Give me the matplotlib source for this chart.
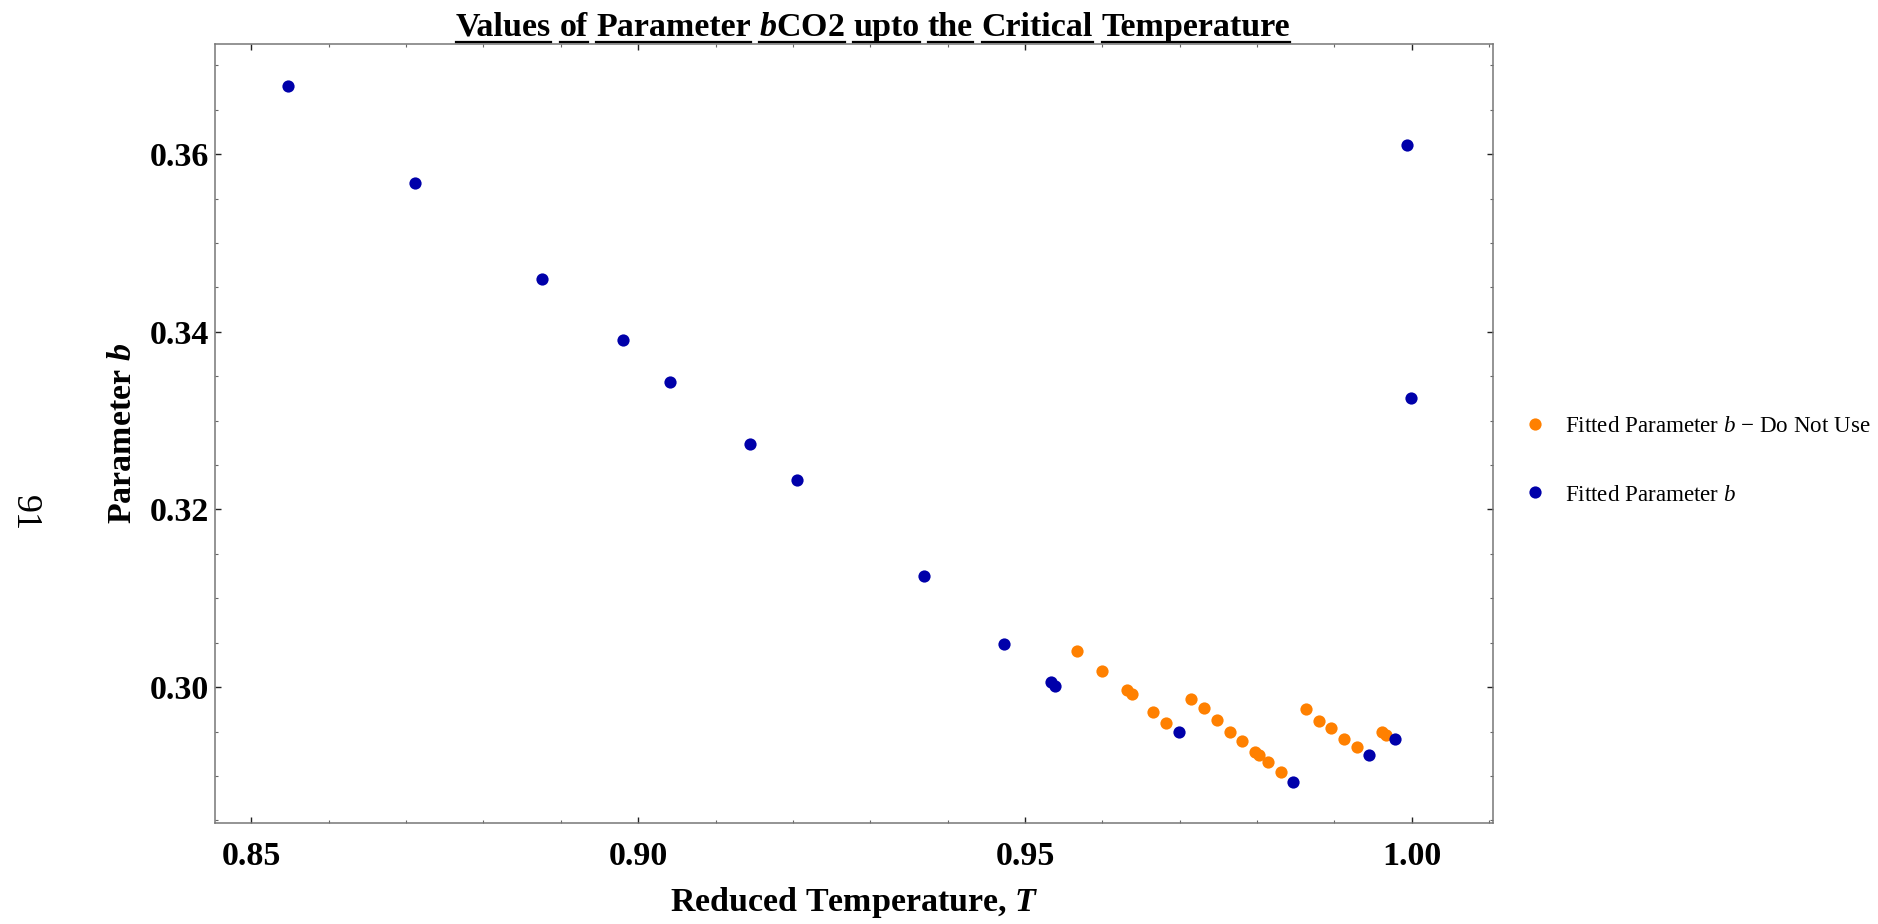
import numpy as np
import matplotlib
matplotlib.use("Agg")
import matplotlib.pyplot as plt
from matplotlib.lines import Line2D
from matplotlib.ticker import MultipleLocator

plt.rcParams['font.family'] = ['Liberation Serif', 'DejaVu Serif']
plt.rcParams['mathtext.fontset'] = 'custom'
plt.rcParams['mathtext.rm'] = 'Liberation Serif'
plt.rcParams['mathtext.it'] = 'Liberation Serif:italic'
plt.rcParams['mathtext.bf'] = 'Liberation Serif:bold'
plt.rcParams['mathtext.bfit'] = 'Liberation Serif:italic:bold'

# 拟合参数 b（可用）
t_fit = [0.8548, 0.8712, 0.8876, 0.8980, 0.9041, 0.9144, 0.9205, 0.9370,
         0.9473, 0.9534, 0.9539, 0.9699, 0.9847, 0.9945, 0.9978, 0.9994, 0.9999]
b_fit = [0.3677, 0.3567, 0.3459, 0.3391, 0.3343, 0.3274, 0.3233, 0.3125,
         0.3049, 0.3006, 0.3001, 0.2950, 0.2893, 0.2923, 0.2942, 0.3610, 0.3325]

# 拟合参数 b（不可用）
t_bad = [0.9567, 0.9600, 0.9632, 0.9638, 0.9665, 0.9682, 0.9715, 0.9732,
         0.9748, 0.9765, 0.9781, 0.9797, 0.9803, 0.9814, 0.9831, 0.9863,
         0.9880, 0.9896, 0.9913, 0.9929, 0.9962, 0.9967]
b_bad = [0.3041, 0.3018, 0.2997, 0.2992, 0.2972, 0.2960, 0.2987, 0.2976,
         0.2963, 0.2950, 0.2939, 0.2927, 0.2923, 0.2916, 0.2904, 0.2975,
         0.2962, 0.2954, 0.2942, 0.2933, 0.2949, 0.2946]

x_ticks = [0.85, 0.90, 0.95, 1.00]
y_ticks = [0.30, 0.32, 0.34, 0.36]
title_words = ["Values", "of", "Parameter", r"$\mathbfit{b}$CO2", "upto",
               "the", "Critical", "Temperature"]

ORANGE = '#ff8000'
BLUE = '#0000aa'

W, H = 1878, 924
fig = plt.figure(figsize=(W / 100, H / 100), dpi=100)
ax = fig.add_axes([215 / W, 1 - 823 / H, (1493 - 215) / W, (823 - 44) / H])

ax.plot(t_bad, b_bad, 'o', ls='none', ms=8.8, mew=0, color=ORANGE,
        label=r"Fitted Parameter $b$ $-$ Do Not Use")
ax.plot(t_fit, b_fit, 'o', ls='none', ms=8.8, mew=0, color=BLUE,
        label=r"Fitted Parameter $b$")

ax.set_xlim(0.8453, 1.0105)
ax.set_ylim(0.2847, 0.3724)
ax.set_xticks(x_ticks)
ax.set_xticklabels([f"{v:.2f}" for v in x_ticks])
ax.set_yticks(y_ticks)
ax.set_yticklabels([f"{v:.2f}" for v in y_ticks])
ax.xaxis.set_minor_locator(MultipleLocator(0.01))
ax.yaxis.set_minor_locator(MultipleLocator(0.005))

ax.tick_params(which='both', direction='in', top=True, right=True)
ax.tick_params(which='major', length=4.5, width=1.0, color='#222222')
ax.tick_params(which='minor', length=2.5, width=0.8, color='#666666')
ax.tick_params(axis='x', which='major', pad=13)
ax.tick_params(axis='y', which='major', pad=4)
for lab in ax.get_xticklabels() + ax.get_yticklabels():
    lab.set_fontsize(24.5)
    lab.set_fontweight('bold')

for s in ax.spines.values():
    s.set_color('#777777')
    s.set_linewidth(1.1)

ax.set_xlabel(r"Reduced Temperature, $\mathbfit{T}$", fontsize=24.5,
              fontweight='bold', labelpad=9)
ax.set_ylabel(r"Parameter $\mathbfit{b}$", fontsize=24.5, fontweight='bold',
              labelpad=9)

leg = ax.legend(loc='center left', bbox_to_anchor=(1.02, 0.465),
                frameon=False, fontsize=16.6, handlelength=0.6,
                handletextpad=1.0, labelspacing=2.05, borderaxespad=0)

# 标题：逐词放置并加下划线
fig.canvas.draw()
renderer = fig.canvas.get_renderer()
title_fs = 24.5
probe = fig.text(0, 0, "x x", fontsize=title_fs, fontweight='bold')
w_sp = probe.get_window_extent(renderer).width
probe.set_text("xx")
w_sp -= probe.get_window_extent(renderer).width
probe.remove()

words = []
widths = []
for wtxt in title_words:
    t = fig.text(0, 1 - 36 / H, wtxt, fontsize=title_fs, fontweight='bold',
                 va='baseline', ha='left')
    words.append(t)
    widths.append(t.get_window_extent(renderer).width)

total = sum(widths) + w_sp * (len(words) - 1)
cx = 873
x = cx - total / 2
for t, w in zip(words, widths):
    t.set_x(x / W)
    fig.add_artist(Line2D([x / W, (x + w) / W], [1 - 41.5 / H, 1 - 41.5 / H],
                          transform=fig.transFigure, color='black', lw=1.6))
    x += w + w_sp

# 页码
fig.text(24 / W, 1 - 513 / H, "91", rotation=270, fontsize=26,
         ha='center', va='center')

fig.savefig('out.png', dpi=100)
